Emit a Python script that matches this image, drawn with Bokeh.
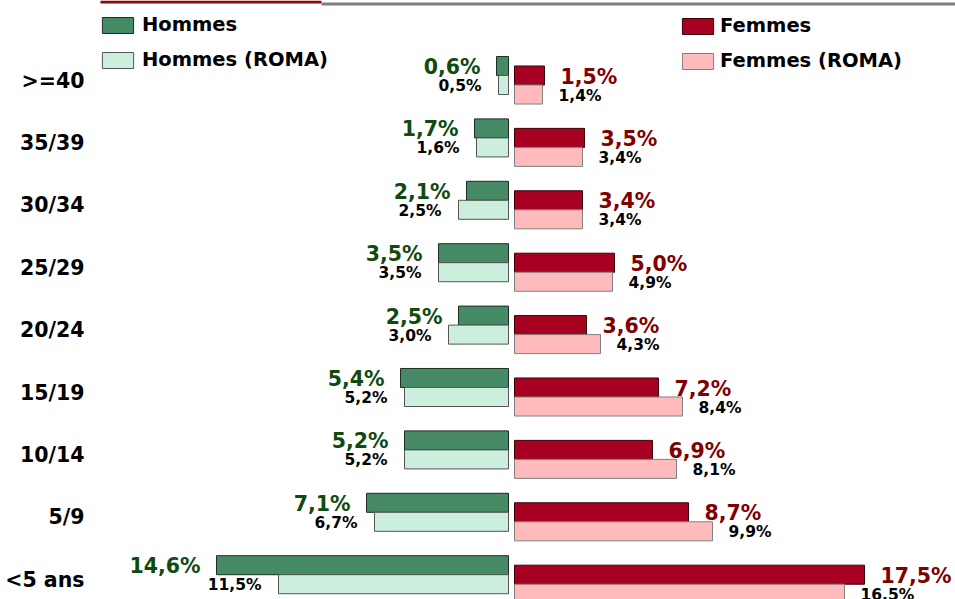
from bokeh.plotting import figure
from bokeh.models import (ColumnDataSource, FixedTicker, Legend, LegendItem,
                          BoxAnnotation)
from bokeh.core.properties import value
from bokeh.embed import file_html
from bokeh.resources import INLINE

# ---------------- data ----------------
categories = [">=40", "35/39", "30/34", "25/29", "20/24", "15/19", "10/14", "5/9", "<5 ans"]
hommes = [0.6, 1.7, 2.1, 3.5, 2.5, 5.4, 5.2, 7.1, 14.6]
hommes_roma = [0.5, 1.6, 2.5, 3.5, 3.0, 5.2, 5.2, 6.7, 11.5]
femmes = [1.5, 3.5, 3.4, 5.0, 3.6, 7.2, 6.9, 8.7, 17.5]
femmes_roma = [1.4, 3.4, 3.4, 4.9, 4.3, 8.4, 8.1, 9.9, 16.5]

hommes_labels = ["0,6%", "1,7%", "2,1%", "3,5%", "2,5%", "5,4%", "5,2%", "7,1%", "14,6%"]
hommes_roma_labels = ["0,5%", "1,6%", "2,5%", "3,5%", "3,0%", "5,2%", "5,2%", "6,7%", "11,5%"]
femmes_labels = ["1,5%", "3,5%", "3,4%", "5,0%", "3,6%", "7,2%", "6,9%", "8,7%", "17,5%"]
femmes_roma_labels = ["1,4%", "3,4%", "3,4%", "4,9%", "4,3%", "8,4%", "8,1%", "9,9%", "16.5%"]

# ---------------- style ----------------
FONT = "DejaVu Sans"
C_H, C_HR = "#458965", "#CCEEDD"
C_F, C_FR = "#A80020", "#FFBBBB"
C_HTXT, C_FTXT = "#0F4A0F", "#800000"
GAP = 0.15          # half gap between the two sides (in %)
BAR_H = 0.305
n = len(categories)
row = [n - 1 - i for i in range(n)]   # top category at highest y

def src(vals, labels, sign, dy):
    ends = [sign * (GAP + v) for v in vals]
    return ColumnDataSource(dict(
        y=[r + dy for r in row],
        left=[min(sign * GAP, e) for e in ends],
        right=[max(sign * GAP, e) for e in ends],
        end=ends,
        label=labels,
    ))

s_h = src(hommes, hommes_labels, -1, 0.2324)
s_hr = src(hommes_roma, hommes_roma_labels, -1, -0.0721)
s_f = src(femmes, femmes_labels, 1, 0.0801)
s_fr = src(femmes_roma, femmes_roma_labels, 1, -0.2244)

p = figure(width=955, height=599, output_backend="svg", toolbar_location=None,
           x_range=(-20.55, 22.2), y_range=(-0.3173, 9.2821),
           min_border_left=100, min_border_right=0, min_border_top=0,
           min_border_bottom=0, x_axis_location=None)
p.outline_line_color = None
p.xgrid.visible = False
p.ygrid.visible = False
p.background_fill_color = "white"
p.border_fill_color = "white"

r_h = p.hbar(y="y", left="left", right="right", height=BAR_H, source=s_h,
             fill_color=C_H, line_color="#1E2E24", line_width=1)
r_hr = p.hbar(y="y", left="left", right="right", height=BAR_H, source=s_hr,
              fill_color=C_HR, line_color="#555555", line_width=1)
r_f = p.hbar(y="y", left="left", right="right", height=BAR_H, source=s_f,
             fill_color=C_F, line_color="#3A0008", line_width=1)
r_fr = p.hbar(y="y", left="left", right="right", height=BAR_H, source=s_fr,
              fill_color=C_FR, line_color="#808080", line_width=1)

common = dict(text_font=value(FONT), text_font_style="bold", text_baseline="middle")
p.text(x="end", y="y", text="label", source=s_h, text_align="right", x_offset=-16,
       y_offset=1, text_color=C_HTXT, text_font_size=value("20.5px"), **common)
p.text(x="end", y="y", text="label", source=s_hr, text_align="right", x_offset=-17,
       y_offset=1, text_color="black", text_font_size=value("15.5px"), **common)
p.text(x="end", y="y", text="label", source=s_f, text_align="left", x_offset=16,
       y_offset=1, text_color=C_FTXT, text_font_size=value("20.5px"), **common)
p.text(x="end", y="y", text="label", source=s_fr, text_align="left", x_offset=16,
       y_offset=1, text_color="black", text_font_size=value("15.5px"), **common)

# category axis
ax = p.yaxis[0]
ax.ticker = FixedTicker(ticks=row)
ax.major_label_overrides = {r: c for r, c in zip(row, categories)}
ax.axis_line_color = None
ax.major_tick_line_color = None
ax.minor_tick_line_color = None
ax.major_tick_out = 0
ax.major_label_standoff = 16
ax.major_label_text_font = FONT
ax.major_label_text_font_style = "bold"
ax.major_label_text_font_size = "20.5px"
ax.major_label_text_color = "black"

# legends
def make_legend(items, loc, standoff):
    lg = Legend(items=items, location=loc, orientation="vertical",
                glyph_width=39, glyph_height=20, label_standoff=standoff,
                spacing=12, padding=0, margin=0,
                border_line_color=None, background_fill_alpha=0,
                label_text_font=FONT, label_text_font_style="bold",
                label_text_font_size="19.5px", label_text_color="black")
    p.add_layout(lg, "center")

make_legend([LegendItem(label="Hommes", renderers=[r_h]),
             LegendItem(label="Hommes (ROMA)", renderers=[r_hr])], (-2, 528), 5)
make_legend([LegendItem(label="Femmes", renderers=[r_f]),
             LegendItem(label="Femmes (ROMA)", renderers=[r_fr])], (578, 527), 3)

# decorative top rules
p.add_layout(BoxAnnotation(left=0, right=321, top=0, bottom=3, left_units="canvas",
                           right_units="canvas", top_units="canvas",
                           bottom_units="canvas", fill_color="#8B0A0A",
                           fill_alpha=1, line_color=None))
p.add_layout(BoxAnnotation(left=321, right=955, top=2, bottom=5, left_units="canvas",
                           right_units="canvas", top_units="canvas",
                           bottom_units="canvas", fill_color="#808080",
                           fill_alpha=1, line_color=None))

open("out.html", "w").write(file_html(p, INLINE))
